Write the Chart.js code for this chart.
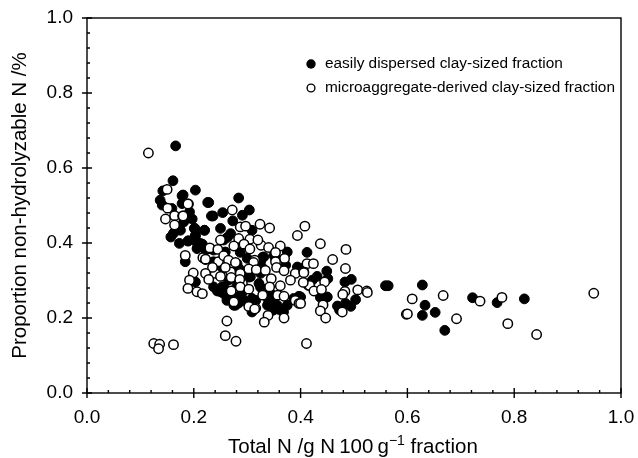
<!DOCTYPE html>
<html>
<head>
<meta charset="utf-8">
<title>Proportion non-hydrolyzable N</title>
<script src="https://cdn.jsdelivr.net/npm/chart.js@4/dist/chart.umd.js"></script>
<style>
    html, body { margin: 0; padding: 0; background: #fff; }
    canvas { display: block; }
</style>
</head>
<body>
<canvas id="scatterChart" width="638" height="458"></canvas>
<script>
// Values
const seriesNames = ['easily dispersed clay-sized fraction', 'microaggregate-derived clay-sized fraction'];
const axisTitleXParts = ['Total N /g N\u2009100\u2009g', '\u22121', ' fraction'];
const axisTitleY = 'Proportion non-hydrolyzable N /%';

const dispersedX = [0.166,0.161,0.142,0.203,0.178,0.137,0.178,0.226,0.141,0.159,0.192,0.233,0.197,0.181,0.175,0.202,0.220,0.162,0.157,0.203,0.173,0.189,0.205,0.216,0.207,
    0.180,0.228,0.284,0.236,0.254,0.304,0.291,0.273,0.250,0.220,0.201,0.269,0.203,0.309,0.190,0.212,0.206,0.259,0.412,0.375,0.219,0.184,0.325,0.287,0.306,0.322,0.203,0.253,0.244,0.262,0.278,0.256,0.309,0.309,0.344,0.356,0.347,0.368,0.375,0.397,0.403,0.294,0.281,0.300,0.237,
    0.250,0.269,0.291,0.297,0.281,0.250,0.237,0.340,0.362,0.331,0.350,0.325,0.278,0.394,0.387,0.275,0.256,0.222,
    0.237,0.256,0.269,0.246,0.287,0.284,0.293,0.316,0.334,0.344,0.338,0.349,0.263,0.329,0.287,0.353,0.303,0.325,0.284,0.265,0.329,0.372,
    0.449,0.431,0.451,0.422,0.483,0.495,0.437,0.450,0.400,0.503,0.484,0.469,0.494,0.473,0.559,0.564,0.628,0.633,0.652,0.628,0.722,0.768,0.819,0.670];
const dispersedY = [0.659,0.566,0.539,0.541,0.526,0.514,0.505,0.508,0.501,0.492,0.483,0.472,0.464,0.456,0.434,0.439,0.434,0.426,0.416,0.418,0.399,0.405,0.403,0.397,0.388,
    0.528,0.508,0.520,0.472,0.481,0.488,0.474,0.459,0.439,0.434,0.439,0.425,0.421,0.434,0.406,0.399,0.385,0.376,0.375,0.376,0.359,0.350,0.350,0.327,0.310,0.292,0.296,0.283,0.272,0.247,0.234,0.265,0.252,0.216,0.243,0.234,0.221,0.216,0.234,0.258,0.332,0.274,0.345,0.359,0.381,
    0.270,0.256,0.252,0.319,0.287,0.327,0.350,0.247,0.221,0.363,0.367,0.319,0.256,0.336,0.252,0.234,0.408,0.381,
    0.283,0.283,0.266,0.274,0.261,0.240,0.247,0.247,0.266,0.266,0.234,0.221,0.415,0.362,0.375,0.359,0.309,0.282,0.333,0.301,0.333,0.341,
    0.325,0.311,0.305,0.301,0.296,0.303,0.255,0.256,0.256,0.249,0.239,0.232,0.231,0.221,0.286,0.286,0.288,0.234,0.215,0.207,0.254,0.241,0.251,0.167];

const microX = [0.115,0.150,0.190,0.151,0.164,0.179,0.147,0.164,0.184,0.230,0.217,0.222,
    0.270,0.287,0.291,0.314,0.256,0.246,0.269,0.240,0.316,
    0.189,0.272,0.180,0.324,0.342,0.408,0.394,0.287,0.297,0.250,0.284,0.305,0.275,0.230,0.245,0.294,0.305,0.326,0.340,0.320,0.362,0.353,0.222,0.256,0.265,0.278,0.312,0.370,0.353,0.412,0.235,0.259,0.303,0.317,0.334,0.355,0.369,0.390,0.406,0.199,0.222,0.192,0.228,0.250,0.270,0.286,0.345,0.381,0.415,0.362,0.342,0.287,0.303,0.189,0.206,0.216,0.270,0.329,0.357,0.369,0.390,0.397,0.275,0.303,0.314,0.339,0.332,0.369,0.262,0.259,0.279,0.411,
    0.437,0.485,0.460,0.424,0.484,0.406,0.445,0.417,0.405,0.425,0.439,0.483,0.479,0.507,0.524,0.525,0.442,0.437,0.447,0.478,0.400,0.609,0.598,0.600,
    0.667,0.736,0.777,0.692,0.788,0.842,0.949,0.125,0.136,0.134,0.162];
const microY = [0.640,0.543,0.504,0.493,0.473,0.472,0.464,0.448,0.367,0.385,0.361,0.356,
    0.345,0.319,0.292,0.354,0.341,0.350,0.323,0.319,0.226,
    0.504,0.488,0.472,0.450,0.440,0.445,0.420,0.443,0.445,0.408,0.412,0.410,0.392,0.387,0.383,0.397,0.384,0.394,0.388,0.408,0.392,0.375,0.357,0.366,0.354,0.348,0.348,0.359,0.350,0.345,0.335,0.335,0.331,0.329,0.327,0.335,0.326,0.319,0.323,0.320,0.319,0.301,0.303,0.311,0.308,0.303,0.305,0.301,0.287,0.286,0.283,0.283,0.277,0.279,0.270,0.265,0.272,0.261,0.261,0.258,0.247,0.239,0.243,0.231,0.224,0.207,0.189,0.200,0.192,0.153,0.138,0.132,
    0.398,0.383,0.356,0.345,0.332,0.321,0.296,0.287,0.295,0.272,0.276,0.271,0.263,0.275,0.272,0.268,0.235,0.219,0.200,0.216,0.239,0.251,0.210,0.211,
    0.260,0.245,0.255,0.198,0.185,0.156,0.266,0.132,0.130,0.118,0.129];

const minorStep = [0.04, 0.08, 0.12, 0.16];
const majorValues = [0, 0.2, 0.4, 0.6, 0.8, 1];

function toPoints(xs, ys) {
    return xs.map((x, i) => ({ x: x, y: ys[i] }));
}

// Frame, inward minor ticks, crossing major ticks, x title and the in-plot legend
const framePlugin = {
    id: 'frame',
    beforeDatasetsDraw(chart) {
        const { ctx, chartArea, scales } = chart;
        ctx.save();
        ctx.strokeStyle = '#000';
        ctx.lineWidth = 1.4;
        ctx.strokeRect(chartArea.left, chartArea.top, chartArea.width, chartArea.height);
        ctx.beginPath();
        majorValues.forEach(v => {
            const px = scales.x.getPixelForValue(v);
            const py = scales.y.getPixelForValue(v);
            ctx.moveTo(px, chartArea.bottom + 5);
            ctx.lineTo(px, chartArea.bottom - 5);
            ctx.moveTo(chartArea.left - 5, py);
            ctx.lineTo(chartArea.left + 5, py);
            minorStep.forEach(m => {
                if (v + m > 1) return;
                const mx = scales.x.getPixelForValue(v + m);
                const my = scales.y.getPixelForValue(v + m);
                ctx.moveTo(mx, chartArea.bottom);
                ctx.lineTo(mx, chartArea.bottom - 3);
                ctx.moveTo(chartArea.left, my);
                ctx.lineTo(chartArea.left + 3, my);
            });
        });
        ctx.stroke();
        ctx.restore();
    },
    afterDraw(chart) {
        const { ctx } = chart;
        ctx.save();
        ctx.fillStyle = '#000';

        // x title, with the raised exponent
        let titleX = 228;
        ctx.textBaseline = 'alphabetic';
        axisTitleXParts.forEach((part, i) => {
            const raised = i === 1;
            ctx.font = (raised ? '14px' : '20.5px') + ' "Liberation Sans"';
            ctx.fillText(part, titleX, raised ? 445 : 453);
            titleX += ctx.measureText(part).width;
        });

        ctx.font = '15.4px "Liberation Sans"';
        ctx.textBaseline = 'middle';
        ctx.fillText(seriesNames[0], 325, 64);
        ctx.fillText(seriesNames[1], 325, 88);
        ctx.lineWidth = 1.4;
        ctx.strokeStyle = '#000';
        ctx.beginPath();
        ctx.arc(311, 64, 4.7, 0, Math.PI * 2);
        ctx.fill();
        ctx.beginPath();
        ctx.arc(311, 88, 3.9, 0, Math.PI * 2);
        ctx.stroke();
        ctx.restore();
    }
};

new Chart(document.getElementById('scatterChart').getContext('2d'), {
    type: 'scatter',
    data: {
        datasets: [
            {
                label: seriesNames[0],
                data: toPoints(dispersedX, dispersedY),
                backgroundColor: '#000',
                borderColor: '#000',
                borderWidth: 1,
                pointRadius: 4.9,
                order: 2
            },
            {
                label: seriesNames[1],
                data: toPoints(microX, microY),
                backgroundColor: '#fff',
                borderColor: '#000',
                borderWidth: 1.5,
                pointRadius: 4.7,
                order: 1
            }
        ]
    },
    options: {
        responsive: false,
        animation: false,
        layout: { padding: { top: 18, right: 17, left: 8, bottom: 0 } },
        plugins: {
            legend: { display: false },
            tooltip: { enabled: false }
        },
        scales: {
            x: {
                type: 'linear',
                min: 0,
                max: 1,
                grid: { display: false, drawTicks: false },
                border: { display: false },
                ticks: {
                    stepSize: 0.2,
                    padding: 13,
                    color: '#000',
                    font: { family: 'Liberation Sans', size: 19 },
                    maxRotation: 0,
                    callback: v => v.toFixed(1)
                },
                afterFit(scale) {
                    scale.height = 65;
                    scale.paddingLeft = 0;
                    scale.paddingRight = 0;
                }
            },
            y: {
                type: 'linear',
                min: 0,
                max: 1,
                grid: { display: false, drawTicks: false },
                border: { display: false },
                ticks: {
                    stepSize: 0.2,
                    padding: 14,
                    color: '#000',
                    font: { family: 'Liberation Sans', size: 19 },
                    callback: v => v.toFixed(1)
                },
                title: {
                    display: true,
                    text: axisTitleY,
                    color: '#000',
                    font: { family: 'Liberation Sans', size: 20.5 },
                    padding: { top: 0, bottom: 0 }
                },
                afterFit(scale) {
                    scale.width = 79;
                    scale.paddingTop = 0;
                    scale.paddingBottom = 0;
                }
            }
        }
    },
    plugins: [framePlugin]
});
</script>
</body>
</html>
